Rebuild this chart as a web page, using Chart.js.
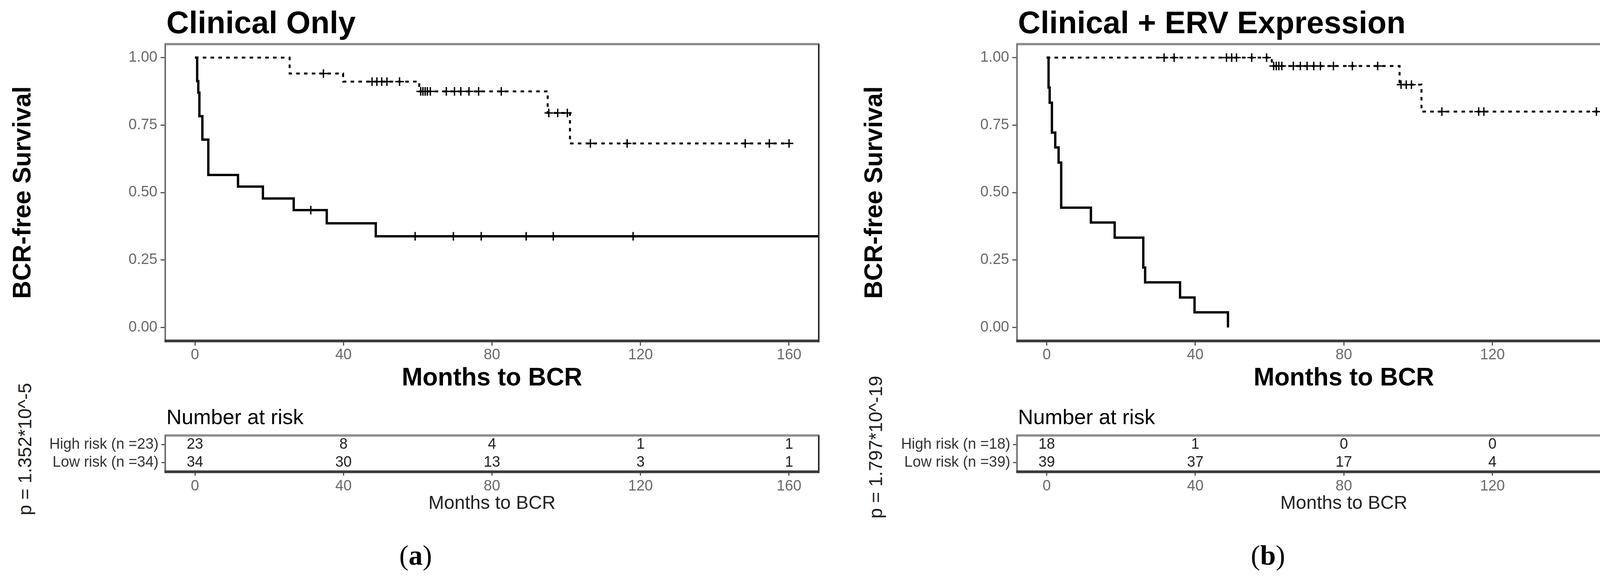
<!DOCTYPE html>
<html>
<head>
<meta charset="utf-8">
<script src="https://cdn.jsdelivr.net/npm/chart.js@4.4.1/dist/chart.umd.min.js"></script>
<style>
  html, body { margin: 0; padding: 0; background: #fff; }
  body { width: 4303px; height: 1480px; position: relative; overflow: hidden; font-family: "Liberation Sans", Arial, sans-serif; }
  canvas { position: absolute; }
  .txt { position: absolute; white-space: nowrap; line-height: 1; color: #000; }
  .rot { position: absolute; white-space: nowrap; line-height: 1; color: #222; font-size: 48px; transform: translate(-50%, -50%) rotate(-90deg); }
  .lab { position: absolute; white-space: nowrap; line-height: 1; font-family: "Liberation Serif", "Times New Roman", serif; font-size: 72px; transform: translate(-50%, -50%); }
</style>
</head>
<body>

<div class="txt" style="left:426px; top:18px; font-size:80px; font-weight:bold;">Clinical Only</div>
<div class="txt" style="left:2606px; top:18px; font-size:80px; font-weight:bold;">Clinical + ERV Expression</div>

<div class="txt" style="left:426px; top:1040px; font-size:54px;">Number at risk</div>
<div class="txt" style="left:2606px; top:1040px; font-size:54px;">Number at risk</div>

<div class="rot" style="left:64px; top:1150px;">p = 1.352*10^-5</div>
<div class="rot" style="left:2242px; top:1145px;">p = 1.797*10^-19</div>

<div class="lab" style="left:1064px; top:1422px;">(<b>a</b>)</div>
<div class="lab" style="left:3246px; top:1422px;">(<b>b</b>)</div>

<canvas id="mainA" width="2150" height="1010" style="left:0px; top:0px;"></canvas>
<canvas id="tableA" width="2150" height="300" style="left:0px; top:1060px;"></canvas>
<canvas id="mainB" width="2153" height="1010" style="left:2150px; top:0px;"></canvas>
<canvas id="tableB" width="2153" height="300" style="left:2150px; top:1060px;"></canvas>

<script>
// axis ticks
var monthTicks = [0, 40, 80, 120, 160];
var survTicks = [0, 0.25, 0.5, 0.75, 1];

// (a) Clinical only - step points (months, survival)
var aHighTime = [0, 0.6, 0.9, 1.2, 2.0, 3.6, 11.6, 18.3, 26.6, 35.5, 48.7, 168];
var aHighSurv = [1, 0.913, 0.870, 0.783, 0.696, 0.565, 0.522, 0.478, 0.435, 0.386, 0.338, 0.338];
var aHighCensor = [31.2, 59.3, 69.6, 77.1, 89.2, 96.5, 118.0];

var aLowTime = [0, 25.5, 39.9, 60.4, 95.0, 101.0, 160];
var aLowSurv = [1, 0.941, 0.911, 0.875, 0.795, 0.682, 0.682];
var aLowCensor = [34.6, 47.7, 49.0, 50.3, 51.7, 55.1, 60.8, 61.4, 62.0, 62.6, 63.4, 67.7, 69.9, 71.6, 73.8, 76.4,
                  82.5, 95.3, 97.7, 100.3, 106.5, 116.4, 148.2, 154.7, 160.0];

var aRowLabels = ['High risk (n =23)', 'Low risk (n =34)'];
var aRiskHigh = [23, 8, 4, 1, 1];
var aRiskLow = [34, 30, 13, 3, 1];

// (b) Clinical + ERV expression
var bHighTime = [0, 0.5, 0.8, 1.4, 2.3, 3.2, 3.9, 11.9, 18.3, 26.0, 26.5, 35.9, 39.8, 48.8];
var bHighSurv = [1, 0.889, 0.833, 0.722, 0.667, 0.611, 0.444, 0.389, 0.333, 0.222, 0.167, 0.111, 0.056, 0];
var bHighCensor = [];

var bLowTime = [0, 60.6, 95.0, 100.9, 168];
var bLowSurv = [1, 0.969, 0.900, 0.800, 0.800];
var bLowCensor = [31.6, 34.3, 48.4, 49.8, 51.1, 55.2, 59.2, 61.1, 61.8, 62.5, 63.3, 66.4, 68.3, 70.1, 71.9, 73.7,
                  77.2, 82.3, 89.1, 95.4, 96.8, 98.2, 106.4, 116.3, 117.7, 148.0, 154.9, 159.8];

var bRowLabels = ['High risk (n =18)', 'Low risk (n =39)'];
var bRiskHigh = [18, 1, 0, 0, 0];
var bRiskLow = [39, 37, 17, 4, 2];

Chart.defaults.font.family = '"Liberation Sans", Arial, sans-serif';
Chart.defaults.animation = false;

function steps(t, s) {
    return t.map(function (v, i) { return {x: v, y: s[i]}; });
}

// survival level at a given time, for the censor marks
function survAt(t, s, time) {
    var v = s[0];
    for (var i = 0; i < t.length; i++) {
        if (t[i] <= time) v = s[i];
    }
    return v;
}

function censorPoints(t, s, cens) {
    return cens.map(function (c) { return {x: c, y: survAt(t, s, c)}; });
}

// box around the plot area, grey top/left, dark right/bottom
function framePlugin(bottomWidth) {
    return {
        id: 'frame',
        afterDatasetsDraw: function (chart) {
            var a = chart.chartArea, ctx = chart.ctx;
            ctx.save();
            ctx.lineCap = 'butt';
            ctx.strokeStyle = '#8f8f8f'; ctx.lineWidth = 6;
            ctx.beginPath(); ctx.moveTo(a.left - 2, a.top); ctx.lineTo(a.right + 2, a.top); ctx.stroke();
            ctx.strokeStyle = '#6e6e6e'; ctx.lineWidth = 4;
            ctx.beginPath(); ctx.moveTo(a.left, a.top); ctx.lineTo(a.left, a.bottom); ctx.stroke();
            ctx.strokeStyle = '#2a2a2a'; ctx.lineWidth = 4;
            ctx.beginPath(); ctx.moveTo(a.right, a.top); ctx.lineTo(a.right, a.bottom); ctx.stroke();
            ctx.strokeStyle = '#3a3a3a'; ctx.lineWidth = bottomWidth;
            ctx.beginPath(); ctx.moveTo(a.left - 2, a.bottom); ctx.lineTo(a.right + 2, a.bottom); ctx.stroke();
            ctx.restore();
        }
    };
}

function kmChart(id, leftW, rightPad, yTitlePad, highT, highS, highC, lowT, lowS, lowC) {
    var ctx = document.getElementById(id).getContext('2d');
    return new Chart(ctx, {
        type: 'line',
        data: {
            datasets: [
                {
                    label: 'High risk',
                    data: steps(highT, highS),
                    stepped: true,
                    borderColor: '#000',
                    borderWidth: 6,
                    pointRadius: 0
                },
                {
                    label: 'Low risk',
                    data: steps(lowT, lowS),
                    stepped: true,
                    borderColor: '#000',
                    borderWidth: 5,
                    borderDash: [9, 11],
                    pointRadius: 0
                },
                {
                    label: 'High risk censored',
                    data: censorPoints(highT, highS, highC),
                    showLine: false,
                    pointStyle: 'cross',
                    pointRadius: 11,
                    pointBorderWidth: 3.5,
                    pointBorderColor: '#000'
                },
                {
                    label: 'Low risk censored',
                    data: censorPoints(lowT, lowS, lowC),
                    showLine: false,
                    pointStyle: 'cross',
                    pointRadius: 11,
                    pointBorderWidth: 3.5,
                    pointBorderColor: '#000'
                }
            ]
        },
        options: {
            responsive: false,
            devicePixelRatio: 1,
            layout: { padding: { top: 113, right: rightPad, bottom: 0, left: 0 } },
            plugins: { legend: { display: false }, tooltip: { enabled: false } },
            scales: {
                x: {
                    type: 'linear',
                    min: -8,
                    max: 168,
                    afterBuildTicks: function (s) { s.ticks = monthTicks.map(function (v) { return {value: v}; }); },
                    afterFit: function (s) { s.height = 137; },
                    grid: { drawOnChartArea: false, drawTicks: true, tickLength: 12, tickWidth: 3, tickColor: '#555' },
                    border: { display: false },
                    ticks: { color: '#6a6a6a', font: { size: 38 }, padding: 2, maxRotation: 0, autoSkip: false },
                    title: { display: true, text: 'Months to BCR', color: '#000', font: { size: 64, weight: 'bold' }, padding: { top: 0, bottom: 2 } }
                },
                y: {
                    type: 'linear',
                    min: -0.05,
                    max: 1.05,
                    afterBuildTicks: function (s) { s.ticks = survTicks.map(function (v) { return {value: v}; }); },
                    afterFit: function (s) { s.width = leftW; },
                    grid: { drawOnChartArea: false, drawTicks: true, tickLength: 12, tickWidth: 3, tickColor: '#555' },
                    border: { display: false },
                    ticks: { color: '#6a6a6a', font: { size: 38 }, padding: 8, autoSkip: false, callback: function (v) { return v.toFixed(2); } },
                    title: { display: true, text: 'BCR-free Survival', color: '#000', font: { size: 64, weight: 'bold' }, padding: { top: yTitlePad, bottom: 0 } }
                }
            }
        },
        plugins: [framePlugin(7)]
    });
}

function riskTable(id, leftW, rightPad, rowLabels, rows) {
    var numbers = {
        id: 'riskNumbers',
        afterDatasetsDraw: function (chart) {
            var x = chart.scales.x, y = chart.scales.y, c = chart.ctx;
            c.save();
            c.font = '38px "Liberation Sans", Arial, sans-serif';
            c.fillStyle = '#222';
            c.textAlign = 'center';
            c.textBaseline = 'middle';
            rows.forEach(function (row, r) {
                row.forEach(function (v, i) {
                    c.fillText(String(v), x.getPixelForValue(monthTicks[i]), y.getPixelForValue(r));
                });
            });
            c.restore();
        }
    };
    var ctx = document.getElementById(id).getContext('2d');
    return new Chart(ctx, {
        type: 'line',
        data: { datasets: [{ data: [], pointRadius: 0 }] },
        options: {
            responsive: false,
            devicePixelRatio: 1,
            layout: { padding: { top: 55, right: rightPad, bottom: 0, left: 0 } },
            plugins: { legend: { display: false }, tooltip: { enabled: false } },
            scales: {
                x: {
                    type: 'linear',
                    min: -8,
                    max: 168,
                    afterBuildTicks: function (s) { s.ticks = monthTicks.map(function (v) { return {value: v}; }); },
                    afterFit: function (s) { s.height = 152; },
                    grid: { drawOnChartArea: false, drawTicks: true, tickLength: 10, tickWidth: 3, tickColor: '#555' },
                    border: { display: false },
                    ticks: { color: '#6a6a6a', font: { size: 38 }, padding: 5, maxRotation: 0, autoSkip: false },
                    title: { display: true, text: 'Months to BCR', color: '#222', font: { size: 48 }, padding: { top: 0, bottom: 41 } }
                },
                y: {
                    type: 'category',
                    labels: rowLabels,
                    offset: true,
                    afterFit: function (s) { s.width = leftW; },
                    grid: { drawOnChartArea: false, drawTicks: true, tickLength: 10, tickWidth: 3, tickColor: '#555' },
                    border: { display: false },
                    ticks: { color: '#333', font: { size: 38 }, padding: 7, autoSkip: false }
                }
            }
        },
        plugins: [framePlugin(7), numbers]
    });
}

kmChart('mainA', 423, 54, 21.6, aHighTime, aHighSurv, aHighCensor, aLowTime, aLowSurv, aLowCensor);
kmChart('mainB', 453.5, 26, 51.6, bHighTime, bHighSurv, bHighCensor, bLowTime, bLowSurv, bLowCensor);
riskTable('tableA', 423, 54, aRowLabels, [aRiskHigh, aRiskLow]);
riskTable('tableB', 453.5, 26, bRowLabels, [bRiskHigh, bRiskLow]);
</script>
</body>
</html>
